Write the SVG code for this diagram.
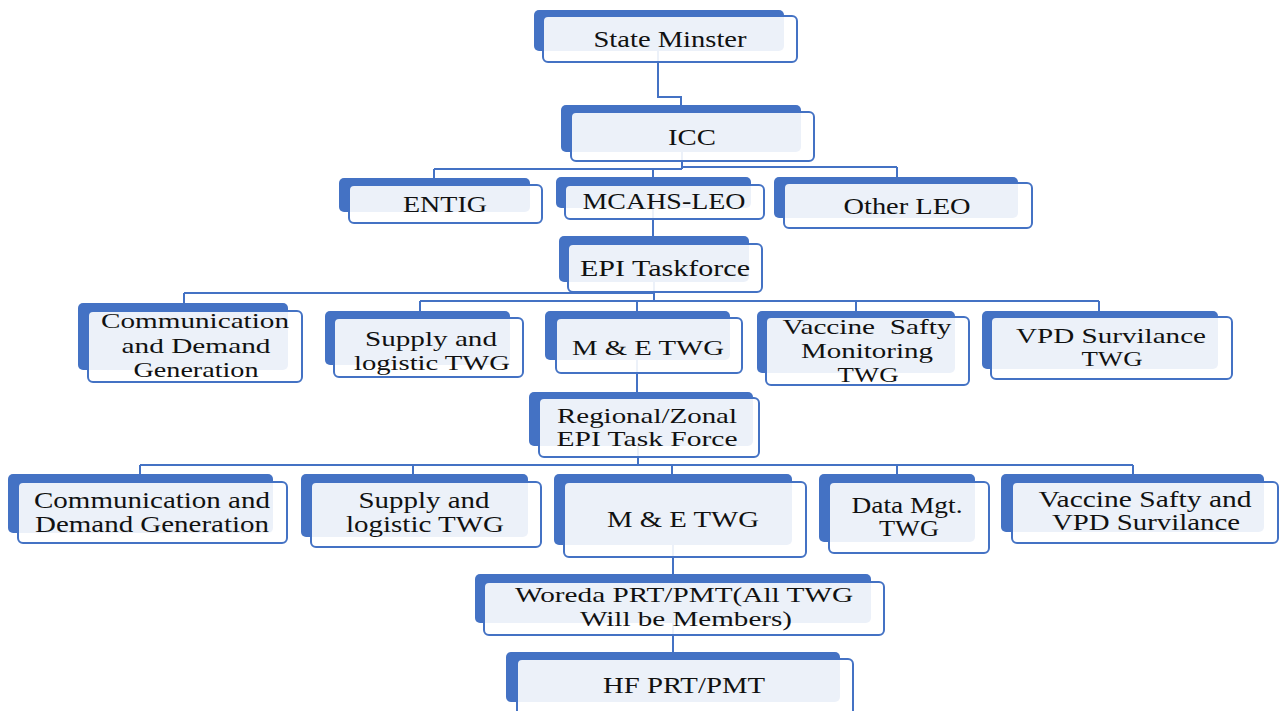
<svg xmlns="http://www.w3.org/2000/svg" width="1280" height="711" viewBox="0 0 1280 711">
<style>
.bk{fill:#4472C4;}
.fr{fill:#FFFFFF;fill-opacity:0.9;stroke:#4472C4;stroke-width:2;}
.cn{fill:none;stroke:#4472C4;stroke-width:2;}
text{font-family:"Liberation Serif","Times New Roman",serif;font-size:23px;fill:#111111;text-anchor:middle;}
.s22{font-size:22px;}
.s24{font-size:24px;}
</style>
<rect width="1280" height="711" fill="#FFFFFF"/>
<g id="connectors">
<path class="cn" d="M658,51 V97 H681 V105"/>
<path class="cn" d="M682,152 V169 M434,169 H682 M682,167 H897 M434,169 V178 M653,169 V177 M897,167 V177"/>
<path class="cn" d="M653,208 V236"/>
<path class="cn" d="M654,282 V301 M184,293 H654 M184,293 V303 M420,301 H1099 M420,301 V311 M637,301 V311 M856,301 V311 M1099,301 V311"/>
<path class="cn" d="M637,360 V392"/>
<path class="cn" d="M638,446 V465 M140,465 H1133 M140,465 V474 M413,465 V474 M672,465 V474 M897,465 V474 M1133,465 V474"/>
<path class="cn" d="M673,545 V574"/>
<path class="cn" d="M673,623 V652"/>
</g>
<g id="state">
<rect class="bk" x="534" y="10" width="250" height="41" rx="5"/>
<rect class="fr" x="543" y="16" width="254" height="46" rx="5"/>
<text x="670" y="47" class="s24" textLength="153" lengthAdjust="spacingAndGlyphs">State Minster</text>
</g>
<g id="icc">
<rect class="bk" x="561" y="105" width="240" height="47" rx="5"/>
<rect class="fr" x="571" y="112" width="243" height="49" rx="5"/>
<text x="692" y="145" class="s24" textLength="48" lengthAdjust="spacingAndGlyphs">ICC</text>
</g>
<g id="entig">
<rect class="bk" x="339" y="178" width="191" height="34" rx="5"/>
<rect class="fr" x="349" y="185" width="193" height="38" rx="5"/>
<text x="445" y="212" textLength="84" lengthAdjust="spacingAndGlyphs">ENTIG</text>
</g>
<g id="mcahs">
<rect class="bk" x="556" y="177" width="195" height="31" rx="5"/>
<rect class="fr" x="565" y="185" width="199" height="34" rx="5"/>
<text x="664" y="209" textLength="163" lengthAdjust="spacingAndGlyphs">MCAHS-LEO</text>
</g>
<g id="other-leo">
<rect class="bk" x="774" y="177" width="244" height="41" rx="5"/>
<rect class="fr" x="784" y="183" width="248" height="45" rx="5"/>
<text x="907" y="214" textLength="127" lengthAdjust="spacingAndGlyphs">Other LEO</text>
</g>
<g id="epi-taskforce">
<rect class="bk" x="559" y="236" width="190" height="46" rx="5"/>
<rect class="fr" x="568" y="244" width="194" height="48" rx="5"/>
<text x="665" y="276" textLength="170" lengthAdjust="spacingAndGlyphs">EPI Taskforce</text>
</g>
<g id="comm2">
<rect class="bk" x="78" y="303" width="210" height="67" rx="5"/>
<rect class="fr" x="88" y="311" width="214" height="71" rx="5"/>
<text x="195" y="328" class="s22" textLength="188" lengthAdjust="spacingAndGlyphs">Communication</text>
<text x="196" y="353" class="s22" textLength="149" lengthAdjust="spacingAndGlyphs">and Demand</text>
<text x="196" y="377" class="s22" textLength="125" lengthAdjust="spacingAndGlyphs">Generation</text>
</g>
<g id="supply2">
<rect class="bk" x="325" y="311" width="185" height="54" rx="5"/>
<rect class="fr" x="334" y="318" width="189" height="59" rx="5"/>
<text x="431" y="346" class="s22" textLength="132" lengthAdjust="spacingAndGlyphs">Supply and</text>
<text x="432" y="370" class="s22" textLength="156" lengthAdjust="spacingAndGlyphs">logistic TWG</text>
</g>
<g id="me2">
<rect class="bk" x="545" y="311" width="185" height="49" rx="5"/>
<rect class="fr" x="556" y="318" width="186" height="55" rx="5"/>
<text x="648" y="355" class="s22" textLength="152" lengthAdjust="spacingAndGlyphs">M &amp; E TWG</text>
</g>
<g id="vsm2">
<rect class="bk" x="757" y="311" width="198" height="62" rx="5"/>
<rect class="fr" x="766" y="317" width="203" height="68" rx="5"/>
<text x="867" y="334" class="s22" textLength="169" lengthAdjust="spacingAndGlyphs" xml:space="preserve">Vaccine  Safty</text>
<text x="867" y="358" class="s22" textLength="132" lengthAdjust="spacingAndGlyphs">Monitoring</text>
<text x="868" y="382" class="s22" textLength="61" lengthAdjust="spacingAndGlyphs">TWG</text>
</g>
<g id="vpd2">
<rect class="bk" x="982" y="311" width="236" height="58" rx="5"/>
<rect class="fr" x="991" y="317" width="241" height="62" rx="5"/>
<text x="1111" y="343" class="s22" textLength="190" lengthAdjust="spacingAndGlyphs">VPD Survilance</text>
<text x="1112" y="366" class="s22" textLength="61" lengthAdjust="spacingAndGlyphs">TWG</text>
</g>
<g id="regional">
<rect class="bk" x="529" y="392" width="224" height="54" rx="5"/>
<rect class="fr" x="539" y="398" width="220" height="59" rx="5"/>
<text x="647" y="423" class="s22" textLength="180" lengthAdjust="spacingAndGlyphs">Regional/Zonal</text>
<text x="647" y="446" class="s22" textLength="181" lengthAdjust="spacingAndGlyphs">EPI Task Force</text>
</g>
<g id="comm3">
<rect class="bk" x="8" y="474" width="265" height="59" rx="5"/>
<rect class="fr" x="18" y="482" width="269" height="61" rx="5"/>
<text x="152" y="508" textLength="236" lengthAdjust="spacingAndGlyphs">Communication and</text>
<text x="152" y="532" textLength="234" lengthAdjust="spacingAndGlyphs">Demand Generation</text>
</g>
<g id="supply3">
<rect class="bk" x="301" y="474" width="227" height="63" rx="5"/>
<rect class="fr" x="311" y="482" width="230" height="65" rx="5"/>
<text x="424" y="508" textLength="131" lengthAdjust="spacingAndGlyphs">Supply and</text>
<text x="425" y="532" textLength="158" lengthAdjust="spacingAndGlyphs">logistic TWG</text>
</g>
<g id="me3">
<rect class="bk" x="554" y="474" width="238" height="71" rx="5"/>
<rect class="fr" x="564" y="482" width="242" height="75" rx="5"/>
<text x="683" y="527" textLength="152" lengthAdjust="spacingAndGlyphs">M &amp; E TWG</text>
</g>
<g id="data3">
<rect class="bk" x="819" y="474" width="156" height="68" rx="5"/>
<rect class="fr" x="829" y="482" width="160" height="71" rx="5"/>
<text x="907" y="513" textLength="111" lengthAdjust="spacingAndGlyphs">Data Mgt.</text>
<text x="909" y="536" textLength="60" lengthAdjust="spacingAndGlyphs">TWG</text>
</g>
<g id="vs3">
<rect class="bk" x="1001" y="474" width="263" height="58" rx="5"/>
<rect class="fr" x="1012" y="482" width="266" height="61" rx="5"/>
<text x="1145" y="507" textLength="213" lengthAdjust="spacingAndGlyphs">Vaccine Safty and</text>
<text x="1146" y="530" textLength="188" lengthAdjust="spacingAndGlyphs">VPD Survilance</text>
</g>
<g id="woreda">
<rect class="bk" x="475" y="574" width="396" height="49" rx="5"/>
<rect class="fr" x="484" y="582" width="400" height="53" rx="5"/>
<text x="684" y="602" class="s22" textLength="338" lengthAdjust="spacingAndGlyphs">Woreda PRT/PMT(All TWG</text>
<text x="686" y="626" class="s22" textLength="212" lengthAdjust="spacingAndGlyphs">Will be Members)</text>
</g>
<g id="hf">
<rect class="bk" x="506" y="652" width="334" height="50" rx="5"/>
<rect class="fr" x="517" y="659" width="336" height="57" rx="5"/>
<text x="684" y="693" textLength="162" lengthAdjust="spacingAndGlyphs">HF PRT/PMT</text>
</g>
</svg>
